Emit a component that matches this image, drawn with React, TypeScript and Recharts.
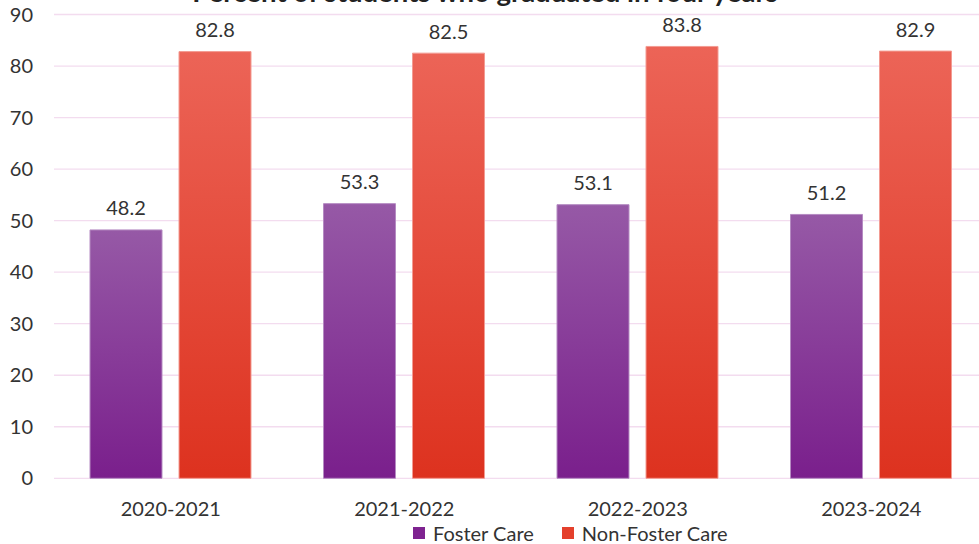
import React from "react";
import { BarChart, Bar, XAxis, YAxis, CartesianGrid, LabelList } from "recharts";

const years = ["2020-2021", "2021-2022", "2022-2023", "2023-2024"];
const fosterCare = [48.2, 53.3, 53.1, 51.2];
const nonFosterCare = [82.8, 82.5, 83.8, 82.9];
const yTicks = [0, 10, 20, 30, 40, 50, 60, 70, 80, 90];
const seriesNames = ["Foster Care", "Non-Foster Care"];
const title = "Percent of students who graduated in four years";

const data = years.map((y, i) => ({ year: y, foster: fosterCare[i], nonFoster: nonFosterCare[i] }));

const FONT = "Lato, 'Open Sans', sans-serif";

export default function App() {
  return (
    <div style={{ position: "absolute", top: 0, left: 0, width: 979, height: 544, overflow: "hidden", background: "#fff" }}>
      <BarChart
        width={988}
        height={544}
        data={data}
        margin={{ top: 14.5, right: 0, left: 0, bottom: 0 }}
        barSize={72}
        barGap={17}
      >
        <defs>
          <linearGradient id="gPurple" x1="0" y1="0" x2="0" y2="1">
            <stop offset="0%" stopColor="#9659a6" />
            <stop offset="100%" stopColor="#7a1f8c" />
          </linearGradient>
          <linearGradient id="gRed" x1="0" y1="0" x2="0" y2="1">
            <stop offset="0%" stopColor="#ec6457" />
            <stop offset="100%" stopColor="#dd321f" />
          </linearGradient>
        </defs>
        <CartesianGrid vertical={false} stroke="#f3dcef" strokeWidth={1.3} />
        <XAxis
          dataKey="year"
          axisLine={false}
          tickLine={false}
          tickSize={0}
          tickMargin={23.5}
          height={65.7}
          tick={{ fontFamily: FONT, fontSize: 20, fill: "#333" }}
        />
        <YAxis
          domain={[0, 90]}
          ticks={yTicks}
          axisLine={false}
          tickLine={false}
          tickSize={0}
          tickMargin={21}
          width={54}
          tick={{ fontFamily: FONT, fontSize: 20, fill: "#333" }}
        />
        <Bar dataKey="foster" name={seriesNames[0]} fill="url(#gPurple)" stroke="#b58bc2" strokeWidth={1} isAnimationActive={false}>
          <LabelList dataKey="foster" position="top" offset={14.5} style={{ fontFamily: FONT, fontSize: 20, fill: "#333" }} />
        </Bar>
        <Bar dataKey="nonFoster" name={seriesNames[1]} fill="url(#gRed)" stroke="#f39b92" strokeWidth={1} isAnimationActive={false}>
          <LabelList dataKey="nonFoster" position="top" offset={14.5} style={{ fontFamily: FONT, fontSize: 20, fill: "#333" }} />
        </Bar>
      </BarChart>
      <div
        style={{
          position: "absolute",
          left: 413,
          top: 521,
          display: "flex",
          alignItems: "center",
          fontFamily: FONT,
          fontSize: 20,
          lineHeight: "24px",
          color: "#333",
          whiteSpace: "nowrap",
        }}
      >
        <span style={{ display: "inline-block", width: 12, height: 12, background: "#7e2390", marginRight: 8 }} />
        <span style={{ marginRight: 28 }}>{seriesNames[0]}</span>
        <span style={{ display: "inline-block", width: 12, height: 12, background: "#e4402c", marginRight: 8 }} />
        <span>{seriesNames[1]}</span>
      </div>
      <svg width={979} height={20} style={{ position: "absolute", top: 0, left: 0, pointerEvents: "none" }}>
        <text x={485} y={1.5} textAnchor="middle" fontFamily={FONT} fontWeight="bold" fontSize={27.5} fill="#222">
          {title}
        </text>
      </svg>
    </div>
  );
}
